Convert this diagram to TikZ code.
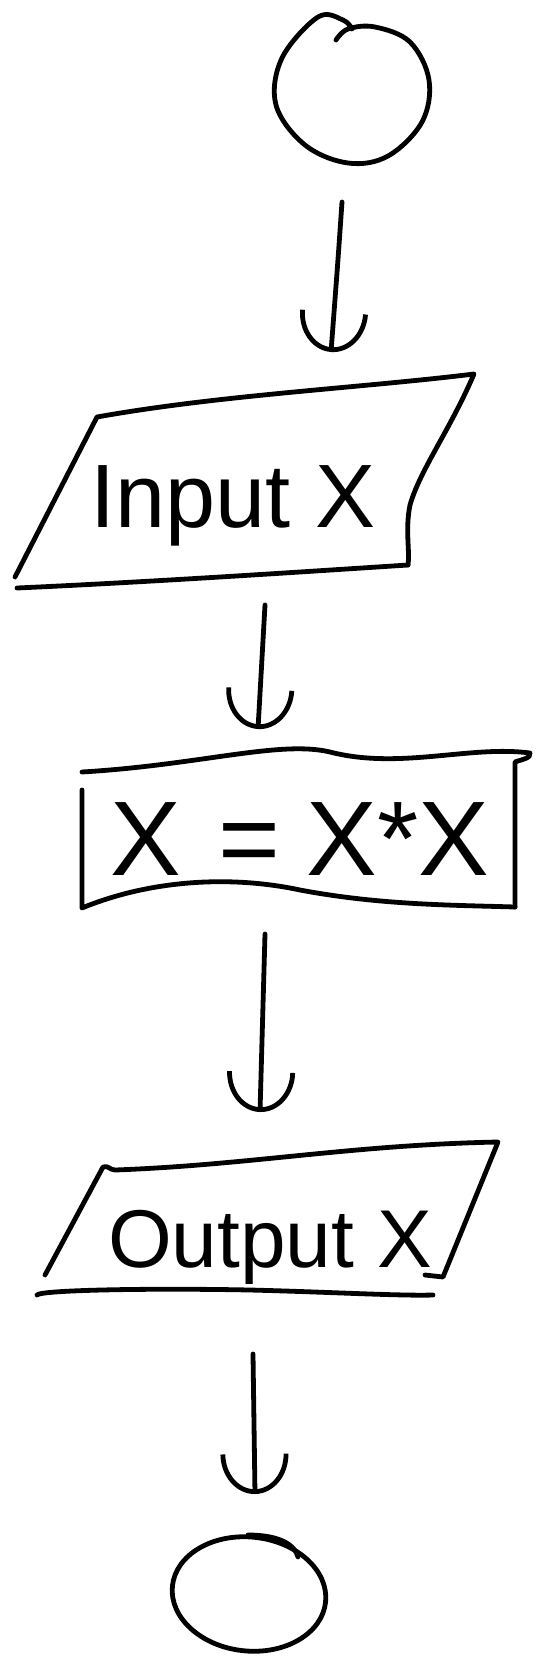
\documentclass[tikz,border=0pt]{standalone}
\usepackage{fontspec}
\setmainfont{Liberation Sans}
\usetikzlibrary{arrows.meta}
\tikzset{
  ink/.style={line width=2.4pt, line cap=round, line join=round, black},
  flowarrow/.style={ink, -{Arc Barb[length=20pt,width=34pt,line width=2.4pt]}},
  label/.style={anchor=base, inner sep=0pt}
}
\begin{document}
\begin{tikzpicture}[x=0.5pt,y=-0.5pt]
\useasboundingbox (0,0) rectangle (549,1666);
% start circle
\draw[ink] plot[smooth, tension=0.6] coordinates {(336,40) (348,29) (375,27) (410,42) (429,80) (422,122) (388,156) (348,163) (305,145) (276,105) (282,58) (318,17) (343,20) (352,29)};
\coordinate (s1) at (342,202);
\coordinate (e1) at (331,352);
\draw[flowarrow] (s1) .. controls (338,260) .. (e1);
% input parallelogram
\draw[ink] (15,577) -- (97,417) .. controls (220,395) and (360,388) .. (474,374) .. controls (450,430) and (420,470) .. (410,505) .. controls (405,530) and (410,550) .. (408,565);
\draw[ink] (17,588) .. controls (150,582) and (300,572) .. (408,565);
\node[label, font=\fontsize{45}{49}\selectfont] (inp) at (233,527) {Input X};
\coordinate (s2) at (265,605);
\coordinate (e2) at (258,729);
\draw[flowarrow] (s2) -- (e2);
% process rectangle
\draw[ink] (82,772) .. controls (200,765) and (280,740) .. (330,752) .. controls (400,770) and (470,745) .. (530,753) .. controls (532,758) and (520,760) .. (515,762) -- (515,907);
\draw[ink] (82,790) -- (82,908) .. controls (150,880) and (230,875) .. (300,890) .. controls (380,905) and (450,905) .. (515,907);
\node[label, font=\fontsize{53}{57}\selectfont] (proc) at (300,875) {X\hspace{0.35em}=\hspace{0.25em}X*X};
\coordinate (s3) at (265,934);
\coordinate (e3) at (260,1112);
\draw[flowarrow] (s3) -- (e3);
% output parallelogram
\draw[ink] (45,1275) -- (103,1167) .. controls (108,1165) and (110,1170) .. (115,1170) .. controls (250,1165) and (350,1145) .. (498,1142) -- (443,1277) -- (425,1275);
\draw[ink] (37,1295) .. controls (40,1290) and (150,1288) .. (250,1290) .. controls (330,1292) and (400,1296) .. (433,1295);
\node[label, font=\fontsize{41}{45}\selectfont] (outp) at (270,1267) {Output X};
\coordinate (s4) at (253,1354);
\coordinate (e4) at (255,1494);
\draw[flowarrow] (s4) -- (e4);
% end ellipse
\draw[ink, rotate around={-6:(249,1594)}] (249,1594) ellipse [x radius=77, y radius=57];
\draw[ink] (248,1535) .. controls (280,1535) and (295,1545) .. (298,1557);
\end{tikzpicture}
\end{document}
